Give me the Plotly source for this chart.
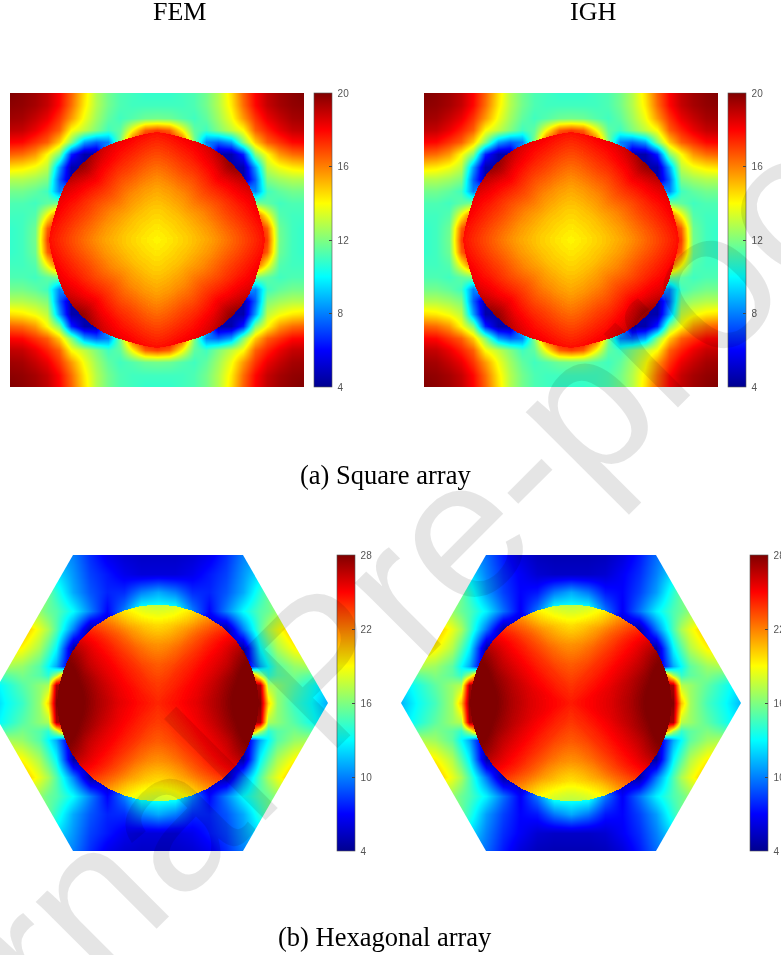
import numpy as np
import plotly.graph_objects as go

W, H = 781, 955
titles = ["FEM", "IGH"]
captions = ["(a) Square array", "(b) Hexagonal array"]
square_ticks = [4, 8, 12, 16, 20]
hex_ticks = [4, 10, 16, 22, 28]

# ---- matrix tables (one quadrant, centre -> edge) ----
square_axis = [0, .083, .167, .25, .333, .417, .5, .583, .667, .75, .833, .917, 1]
square_matrix = [
 [18.5,18.5,18.5,18.5,18.5,18.5,18.5,18.5,18.5,17,11.8,11,10.8],
 [18.5,18.5,18.5,18.5,18.5,18.5,18.5,18.5,18.5,16.5,11.7,11,10.8],
 [18.5,18.5,18.5,18.5,18.5,18.5,18,18,17,14,11.3,11,11],
 [18.5,18.5,18.5,18.5,18,18,18,16,12,11.5,11,11.2,11.2],
 [18.5,18.5,18,18,18,14,12,9,8,11,11.5,11.8,11.8],
 [18.5,18.5,18.5,18,14,5,5,4.5,7.5,12,12.5,12.8,12.8],
 [18.5,18.5,18,18,12,5,4.5,4.5,8.5,13,13.8,14.3,14.5],
 [18.5,18.5,18,16,9,4.5,4.5,6.5,12,14,15.6,16.3,16.5],
 [18.5,18.5,17,12,8,7.5,8.5,12,14.8,16.5,17.2,17.9,18],
 [17,16.5,14,11.5,11,12,13,14,16.5,17.5,18.3,18.9,19],
 [11.8,11.7,11.3,11,11.5,12.5,13.8,15.6,17.2,18.3,18.9,19.4,19.5],
 [11,11,11,11.2,11.8,12.8,14.3,16.3,17.9,18.9,19.4,19.7,19.8],
 [10.8,10.8,11,11.2,11.8,12.8,14.5,16.5,18,19,19.5,19.8,20],
]
square_rings = [0, .15, .3, .5, .7, .85, 1]
square_angles = [0, 7.5, 15, 22.5, 30, 37.5, 45]
square_radius = [108, 106.5, 105.5, 106, 107, 107, 107]
square_fiber = [
 [14.1,14.45,14.85,15.5,16.4,17.1,17.8],
 [14.1,14.45,14.85,15.6,16.5,17.2,17.9],
 [14.1,14.45,14.9,15.65,16.7,17.4,18.1],
 [14.1,14.5,14.95,15.8,16.9,17.6,18.3],
 [14.1,14.5,15.0,15.9,17.0,17.9,18.7],
 [14.1,14.5,15.0,16.0,17.2,18.1,19.3],
 [14.1,14.5,15.0,16.1,17.3,18.4,19.8],
]
hex_x = [0, 17, 34, 51, 68, 85, 102, 110, 119, 136, 153, 170]
hex_y = [0, 18.5, 28, 37, 55.5, 74, 92.5, 111, 129.5, 148]
hex_matrix_fem = [
 [24,24,26,28,28,28,28,20,16.5,14.3,13,11],
 [24,24,26,28,28,28,27,17,16.3,15,13.5,12],
 [24,24,26,28,28,28,17,14,15,15.8,15,14],
 [24,24,20,12,5,4.5,11,13,15,16.5,17,17],
 [20,18,12,5,5,4.5,13,15,17,19,20,20],
 [18,15,8,5,4.5,10,15,17,18.5,21,21,21],
 [14,14,10,7,10,13,15,15.5,16.5,17,17,17],
 [11,10,8,7.8,9,11,14,15.5,17,18,18,18],
 [6,6,6.5,7.5,8.5,10.5,12.5,13.5,14,15,15,15],
 [5.5,5.5,5.8,6.5,8,10,11,11.5,12,13,13,13],
]
hex_matrix_igh = [
 [24,24,26,28,28,28,28,20.5,16.8,14.6,13.2,11.3],
 [24,24,26,28,28,28,27,17.3,16.6,15.2,13.7,12.2],
 [24,24,26,28,28,28,17,14.2,15.2,16,15.2,14],
 [24,24,20,12,5,4.5,11,13,15.2,16.7,17.2,17],
 [20,18,12,5,5,4.5,12.8,15,17.2,19.2,20,20],
 [18,15,8,5,4.5,9.7,14.8,17,18.5,21,21,21],
 [14,14,9.8,6.8,9.6,12.7,14.8,15.5,16.5,17,17,17],
 [11,9.8,7.5,7,8.5,10.7,14,15.5,17,18,18,18],
 [5.5,5.5,5.8,6.8,8,10,12.5,13.5,14,15,15,15],
 [5,5,5.2,6,7.5,9.5,11,11.5,12,13,13,13],
]
hex_rings = [0, .2, .4, .6, .8, .9, 1]
hex_angles = [0, 10, 20, 30, 40, 50, 60, 70, 80, 90]
hex_radius = [101, 100.5, 100, 100, 100, 99.5, 99, 98.5, 98.5, 98.5]
hex_fiber_fem = [
 [24.1,24.8,25.7,27,28.5,29,29],
 [24.1,24.7,25.5,26.8,28.2,28.8,29],
 [24.1,24.6,25.3,26.3,27.5,28.2,28.5],
 [24.1,24.5,25,25.6,26.3,27,27.5],
 [24.1,24.3,24.6,25,25.3,25.5,25.5],
 [24.1,24.1,24.2,24.2,24.2,24,23.5],
 [24.1,24,23.8,23.4,22.8,22.2,21.5],
 [24.1,23.8,23.3,22.5,21.3,20.3,19.5],
 [24.1,23.7,23,21.8,20.2,19,18],
 [24.1,23.6,22.8,21.5,19.7,18.5,17.5],
]
hex_fiber_igh = [
 [24.4,25,25.8,27,28.5,29,29],
 [24.4,25,25.7,26.8,28.2,28.8,29],
 [24.4,24.9,25.5,26.4,27.5,28.2,28.5],
 [24.4,24.7,25.1,25.7,26.4,27,27.5],
 [24.4,24.5,24.7,25,25.3,25.5,25.5],
 [24.4,24.3,24.2,24.2,24.2,24,23.5],
 [24.4,24.1,23.8,23.4,22.8,22.2,21.5],
 [24.4,24,23.3,22.5,21.3,20.2,19.3],
 [24.4,23.8,23,21.8,20.2,18.9,17.8],
 [24.4,23.7,22.8,21.5,19.6,18.3,17.3],
]

JET = [[0, "#00008f"], [.125, "#0000ff"], [.375, "#00ffff"], [.625, "#ffff00"], [.875, "#ff0000"], [1, "#800000"]]
hidden = dict(visible=False, fixedrange=True)


def mirror(values):
    a = np.array(values, float)
    a = np.hstack([a[:, :0:-1], a])
    return np.vstack([a[:0:-1], a])


def panel_axes(n, left, right, top, bottom, xr, yr):
    fig.update_layout({
        f"xaxis{n}": dict(domain=[left / W, right / W], range=xr, anchor=f"y{n}", **hidden),
        f"yaxis{n}": dict(domain=[1 - bottom / H, 1 - top / H], range=yr, anchor=f"x{n}", **hidden),
    })


def colorbar(left, top, length, ticks):
    return dict(x=left / W, xanchor="left", y=1 - top / H, yanchor="top", len=length, lenmode="pixels",
                thickness=18, thicknessmode="pixels", xpad=0, ypad=0, outlinewidth=0.6, outlinecolor="#555",
                tickmode="array", tickvals=ticks, ticktext=["\u00a0" + str(t) for t in ticks], ticks="inside", ticklen=3,
                tickcolor="#444", tickfont=dict(family="Liberation Sans", size=10, color="#555"))


def draw(n, xs, ys, matrix, rings, fiber, th_deg, radius, scale, zmin, zmax, cb):
    xa, ya = f"x{n}", f"y{n}"
    fig.add_trace(go.Heatmap(x=xs, y=ys, z=mirror(matrix), zsmooth="best", colorscale=JET, zmin=zmin, zmax=zmax,
                             xaxis=xa, yaxis=ya, hoverinfo="skip", colorbar=cb))
    closed = len(th_deg) - 1            # last entry repeats the first
    per_quarter = closed // 4
    rr = np.array(rings, float)
    axis = dict(smoothing=0, showgrid=False, showline=False, startline=False, endline=False,
                showticklabels="none", minorgridcount=0, gridwidth=0, linewidth=0)
    for k in range(4):
        idx = [i % closed for i in range(per_quarter * k - 1, per_quarter * (k + 1) + 2)]
        th = np.radians([th_deg[i] for i in idx])
        rad = np.array([radius[i] for i in idx], float) * scale
        zz = np.array([fiber[i] for i in idx], float)
        X = np.outer(rad * np.cos(th), rr)
        Y = np.outer(rad * np.sin(th), rr)
        bb = list(range(len(idx)))
        cid = f"carpet{n}_{k}"
        fig.add_trace(go.Carpet(a=rings, b=bb, x=X, y=Y, carpet=cid, xaxis=xa, yaxis=ya, aaxis=axis, baxis=axis))
        fig.add_trace(go.Contourcarpet(a=rings, b=bb, z=zz, carpet=cid, xaxis=xa, yaxis=ya,
                                       colorscale=JET, zmin=zmin, zmax=zmax, autocontour=False,
                                       contours=dict(start=zmin + .07, end=zmax + 2, size=0.125, coloring="fill", showlines=False),
                                       line=dict(width=0, color="rgba(0,0,0,0)"), showscale=False))


def fourfold(q_a, q_r, q_t):
    th = list(q_a) + [180 - v for v in q_a[-2::-1]]
    r = list(q_r) + list(q_r)[-2::-1]
    t = list(q_t) + list(q_t)[-2::-1]
    return th + [180 + v for v in th[1:]], r + r[1:], t + t[1:]


def eightfold(angles, radius, table):
    a = list(angles)
    q_a = a + [90 - v for v in a[-2::-1]]
    return fourfold(q_a, list(radius) + list(radius)[-2::-1], list(table) + list(table)[-2::-1])


fig = go.Figure()
panel_axes("", 10, 304, 93, 387, [-1, 1], [-1, 1])
panel_axes(2, 424, 718, 93, 387, [-1, 1], [-1, 1])
panel_axes(3, 0, 332, 555, 851, [-158, 174], [-148, 148])
panel_axes(4, 397, 745, 555, 851, [-174, 174], [-148, 148])

sq_axis = [-v for v in square_axis[:0:-1]] + square_axis
hx = [-v for v in hex_x[:0:-1]] + hex_x
hy = [-v for v in hex_y[:0:-1]] + hex_y

sq_th, sq_r, sq_t = eightfold(square_angles, square_radius, square_fiber)
hx_th, hx_r, hx_t_fem = fourfold(hex_angles, hex_radius, hex_fiber_fem)
_, _, hx_t_igh = fourfold(hex_angles, hex_radius, hex_fiber_igh)

draw("", sq_axis, sq_axis, square_matrix, square_rings, sq_t, sq_th, sq_r, 1 / 147, 4, 20, colorbar(314, 93, 294, square_ticks))
draw(2, sq_axis, sq_axis, square_matrix, square_rings, sq_t, sq_th, sq_r, 1 / 147, 4, 20, colorbar(728, 93, 294, square_ticks))
draw(3, hx, hy, hex_matrix_fem, hex_rings, hx_t_fem, hx_th, hx_r, 1, 4, 28, colorbar(337, 555, 296, hex_ticks))
draw(4, hx, hy, hex_matrix_igh, hex_rings, hx_t_igh, hx_th, hx_r, 1, 4, 28, colorbar(750, 555, 296, hex_ticks))

shapes = []
for xa, ya in (("x3", "y3"), ("x4", "y4")):
    for sx in (-1, 1):
        for sy in (-1, 1):
            shapes.append(dict(type="path", xref=xa, yref=ya, layer="above", line=dict(width=0), fillcolor="white",
                               path=f"M {sx*85} {sy*148} L {sx*178} {sy*148} L {sx*178} 0 L {sx*170} 0 Z"))

ann = [dict(text="Journal Pre-proof", x=320 / W, y=1 - 668 / H, xref="paper", yref="paper", showarrow=False,
            textangle=-45, xanchor="center", yanchor="middle",
            font=dict(family="Liberation Sans", size=198, color="rgba(0,0,0,0.1)"))]
for txt, cx in zip(titles, (179, 593)):
    ann.append(dict(text=txt, x=cx / W, y=1 - 12 / H, xref="paper", yref="paper", showarrow=False, xanchor="center",
                    yanchor="middle", font=dict(family="Liberation Serif", size=26, color="black")))
for txt, cy in zip(captions, (475, 937)):
    ann.append(dict(text=txt, x=385 / W, y=1 - cy / H, xref="paper", yref="paper", showarrow=False, xanchor="center",
                    yanchor="middle", font=dict(family="Liberation Serif", size=26.5, color="black")))

fig.update_layout(width=W, height=H, margin=dict(l=0, r=0, t=0, b=0, autoexpand=False), paper_bgcolor="white",
                  plot_bgcolor="white", shapes=shapes, annotations=ann, showlegend=False)
page_style = """
document.body.style.margin='0';document.body.style.overflow='hidden';
var st=document.createElement('style');
st.textContent='.contourbg path,.contourfill path{shape-rendering:crispEdges !important;}';
document.head.appendChild(st);
document.querySelector('.plotly-graph-div').style.filter='blur(0.5px)';
"""
fig.write_html("out.html", config=dict(displayModeBar=False), post_script=page_style)
